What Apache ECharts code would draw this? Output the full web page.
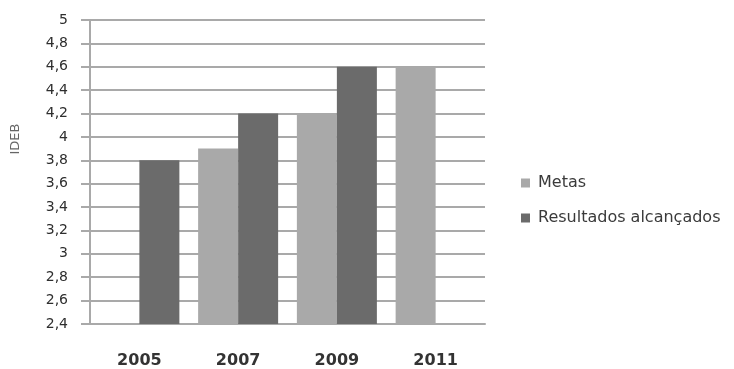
<!DOCTYPE html>
<html>
<head>
<meta charset="utf-8">
<script src="https://cdn.jsdelivr.net/npm/echarts@6/dist/echarts.min.js"></script>
<style>
  html, body { margin: 0; padding: 0; background: #fff; }
  #chart { width: 734px; height: 369px; }
</style>
</head>
<body>
<div id="chart"></div>
<script>
// IDEB: metas vs. resultados alcançados
const years = ['2005', '2007', '2009', '2011'];
const metas = [null, 3.9, 4.2, 4.6];
const resultados = [3.8, 4.2, 4.6, null];
const yMin = 2.4, yMax = 5, yStep = 0.2;

const chart = echarts.init(document.getElementById('chart'));
const font = '"DejaVu Sans", sans-serif';
const gridColor = '#a9a9a9';

chart.setOption({
  animation: false,
  backgroundColor: '#ffffff',
  grid: { left: 90, right: 249, top: 20, bottom: 45 },
  legend: {
    orient: 'vertical',
    left: 516,
    top: 170,
    itemWidth: 9,
    itemHeight: 9,
    itemGap: 19,
    icon: 'rect',
    textStyle: { fontFamily: font, fontSize: 16, color: '#3a3a3a', padding: [0, 0, 0, 3] },
    data: ['Metas', 'Resultados alcançados']
  },
  graphic: [{
    type: 'text',
    x: 16,
    y: 139,
    rotation: Math.PI / 2,
    style: {
      text: 'IDEB',
      font: '13px ' + font,
      fill: '#666',
      textAlign: 'center',
      textVerticalAlign: 'middle'
    }
  }],
  xAxis: {
    type: 'category',
    data: years,
    axisLine: { show: true, lineStyle: { color: gridColor, width: 2 } },
    axisTick: { show: false },
    axisLabel: { fontFamily: font, fontSize: 16, fontWeight: 'bold', color: '#333', margin: 29 }
  },
  yAxis: {
    type: 'value',
    min: yMin,
    max: yMax,
    interval: yStep,
    axisLine: { show: true, lineStyle: { color: gridColor, width: 2 } },
    axisTick: { show: true, length: 9, lineStyle: { color: gridColor, width: 2 } },
    splitLine: { show: true, lineStyle: { color: gridColor, width: 2 } },
    axisLabel: {
      fontFamily: font,
      fontSize: 14,
      color: '#2e2e2e',
      margin: 22,
      formatter: v => String(Math.round(v * 10) / 10).replace('.', ',')
    }
  },
  series: [
    {
      name: 'Metas',
      type: 'bar',
      data: metas,
      barWidth: 40,
      barGap: '0%',
      itemStyle: { color: '#a9a9a9' }
    },
    {
      name: 'Resultados alcançados',
      type: 'bar',
      data: resultados,
      barWidth: 40,
      barGap: '0%',
      itemStyle: { color: '#6b6b6b' }
    }
  ]
});
</script>
</body>
</html>
